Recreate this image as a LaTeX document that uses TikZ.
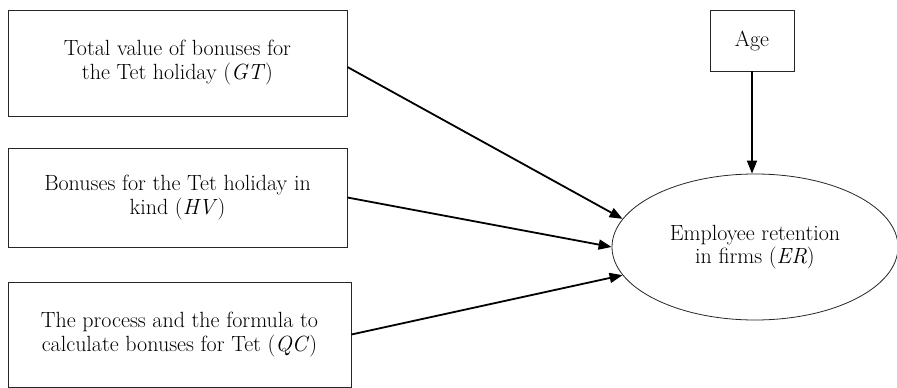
\documentclass[tikz,border=0pt]{standalone}
\usetikzlibrary{arrows.meta,shapes.geometric}
\begin{document}
\begin{tikzpicture}[x=1pt,y=-1pt,
  box/.style={draw=black!85,line width=0.8pt,rectangle,align=center,inner sep=0pt,
    font=\fontsize{22}{24}\selectfont},
  oval/.style={draw=black!85,line width=0.8pt,ellipse,align=center,inner sep=0pt,
    font=\fontsize{22}{23}\selectfont},
  arr/.style={line width=1.8pt,-{Triangle[length=13pt,width=10pt]}}]
\useasboundingbox (0,0) rectangle (897,388);
\node[box,minimum width=339pt,minimum height=106pt] (gt) at (177.5,63)
  {Total value of bonuses for\\the Tet holiday (\textit{GT})};
\node[box,minimum width=339pt,minimum height=99pt] (hv) at (177.5,197.5)
  {Bonuses for the Tet holiday in\\kind (\textit{HV})};
\node[box,minimum width=343pt,minimum height=105pt] (qc) at (179.5,334.5)
  {The process and the formula to\\calculate bonuses for Tet (\textit{QC})};
\node[box,minimum width=84pt,minimum height=61pt] (age) at (752,40.5) {Age};
\node[oval,minimum width=286pt,minimum height=146pt] (er) at (755,247)
  {Employee retention\\in firms (\textit{ER})};
\draw[arr] ([yshift=-4pt]gt.east) -- (er.168);
\draw[arr] (hv.east) -- (er.180);
\draw[arr] (qc.east) -- (er.192);
\draw[arr] (age.south) -- (age.south |- er.north);
\end{tikzpicture}
\end{document}
